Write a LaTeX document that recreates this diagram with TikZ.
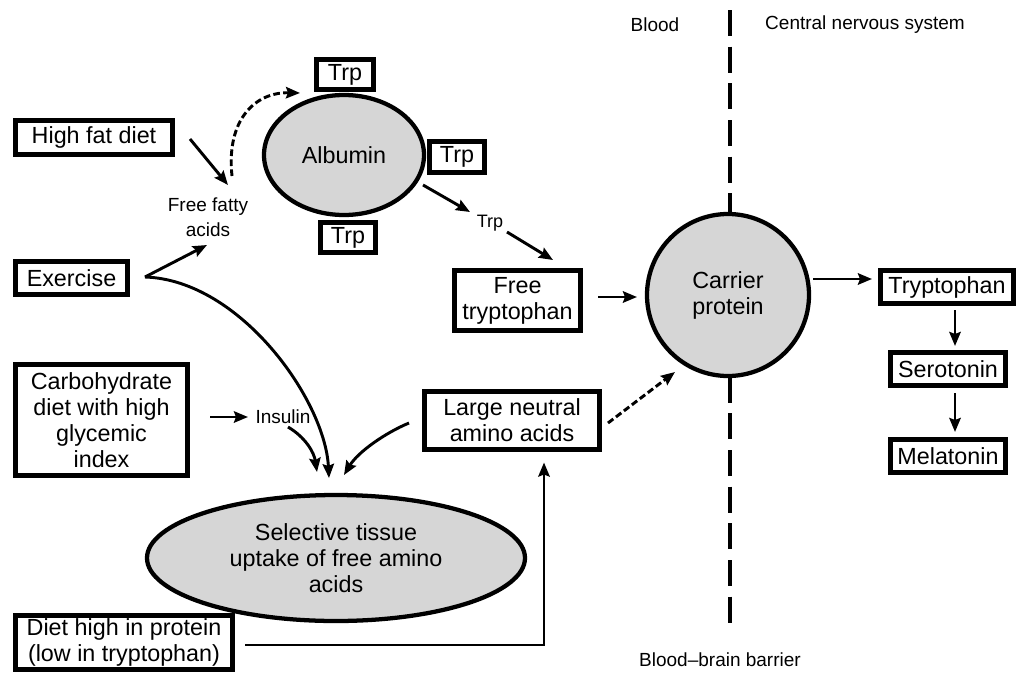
\documentclass[tikz,border=0pt]{standalone}
\usepackage{fontspec}
\setmainfont{Liberation Sans}
\usetikzlibrary{arrows.meta,calc,shapes.geometric}
\begin{document}
\begin{tikzpicture}[x=0.75pt,y=-0.75pt,
  every node/.style={font=\fontsize{17.5}{19.5}\selectfont},
  box/.style={draw,line width=3.4pt,fill=white,inner sep=0pt,outer sep=0pt,align=center},
  blob/.style={draw,line width=3.2pt,fill=black!16,ellipse,inner sep=0pt,outer sep=0pt,align=center},
  lbl/.style={font=\fontsize{14.25}{18.75}\selectfont,align=center,inner sep=0pt},
  arr/.style={line width=2.2pt,-{Stealth[length=10.5pt,width=8.5pt,inset=1.5pt]}},
  darr/.style={arr,dash pattern=on 5pt off 2.5pt},
  barrier/.style={line width=3.6pt,dash pattern=on 19.5pt off 8pt}]
\useasboundingbox (0,0) rectangle (1020,678);

% blood-brain barrier line
\coordinate (bbtop) at (730,10);
\coordinate (bbbot) at (730,625);
\draw[barrier] (bbtop) -- (bbbot);

% labels
\node[lbl] (blood) at (655,25) {Blood};
\node[lbl] (cns) at (865,25) {Central nervous system};
\node[lbl] (bbb) at (720,660) {Blood–brain barrier};

% left boxes
\node[box,minimum width=118pt,minimum height=25.75pt] (hfd) at (94,137.5) {High fat diet};
\node[box,minimum width=84.25pt,minimum height=25pt] (ex) at (71.5,278) {Exercise};
\node[box,minimum width=129.25pt,minimum height=83.5pt] (carb) at (101.5,420) {Carbohydrate\\diet with high\\glycemic\\index};
\node[box,minimum width=163pt,minimum height=40.75pt] (diet) at (124,642.5) {Diet high in protein\\(low in tryptophan)};

\node[lbl] (ffa) at (208,217) {Free fatty\\acids};
\node[lbl] (ins) at (283,417) {Insulin};

% albumin with Trp
\node[blob,minimum width=120pt,minimum height=90pt] (alb) at (344,155) {Albumin};
\node[box,minimum width=43pt,minimum height=22.75pt] (t1) at (345,74.5) {Trp};
\node[box,minimum width=41.5pt,minimum height=23.5pt] (t2) at (457,157) {Trp};
\node[box,minimum width=41.5pt,minimum height=22.75pt] (t3) at (348,237.5) {Trp};
\node[lbl,font=\fontsize{13.5}{16}\selectfont] (trpl) at (490,223) {Trp};

\node[box,minimum width=94.75pt,minimum height=45.25pt] (ft) at (517.5,300.5) {Free\\tryptophan};
\node[box,minimum width=131.5pt,minimum height=43.75pt] (lnaa) at (512,420.5) {Large neutral\\amino acids};

\node[blob,minimum width=283.5pt,minimum height=94.5pt] (tis) at (336,558) {Selective tissue\\uptake of free amino\\acids};
\node[blob,circle,minimum size=121.5pt] (cp) at (728,295) {Carrier\\protein};

% right boxes
\node[box,minimum width=100pt,minimum height=25pt] (tryp) at (947,287) {Tryptophan};
\node[box,minimum width=86.5pt,minimum height=25pt] (sero) at (948,369) {Serotonin};
\node[box,minimum width=86.5pt,minimum height=25pt] (mela) at (948,456) {Melatonin};

% connectors
\draw[arr] ($(hfd)+(96,1.5)$) -- ($(ffa)+(20,-32)$);
\draw[darr] ($(ffa)+(24,-41)$) .. controls (226,120) and (255,92) .. ($(alb)+(-44,-62)$);
\draw[arr] ($(ex)+(73.5,-1)$) -- ($(ffa)+(-1,28)$);
\draw[arr] ($(ex)+(73.5,-1)$) .. controls (240,280) and (325,400) .. ($(tis)+(-7,-80)$);
\draw[arr] ($(carb)+(108.5,-3)$) -- ($(ins)+(-35,0)$);
\draw[arr] ($(ins)+(5,10)$) .. controls (305,437) and (314,452) .. ($(tis)+(-19,-86)$);
\draw[arr] ($(lnaa)+(-103,2.5)$) .. controls (385,433) and (358,452) .. ($(tis)+(8,-83)$);
\draw[arr] ($(diet)+(121,2.5)$) -| ($(lnaa)+(32,42)$);
\draw[darr] ($(lnaa)+(96,2.5)$) -- ($(cp)+(-53,77)$);
\draw[arr] ($(alb)+(79,30)$) -- ($(trpl)+(-20,-11)$);
\draw[arr] ($(trpl)+(17,9)$) -- ($(ft)+(35.5,-40.5)$);
\draw[arr] ($(ft)+(80.5,-3.5)$) -- ($(cp)+(-91,2)$);
\draw[arr] ($(cp)+(85,-16)$) -- ($(tryp)+(-75,-8)$);
\draw[arr] ($(tryp)+(8,23)$) -- ($(sero)+(7,-23)$);
\draw[arr] ($(sero)+(7,24)$) -- ($(mela)+(7,-24)$);
\end{tikzpicture}
\end{document}
